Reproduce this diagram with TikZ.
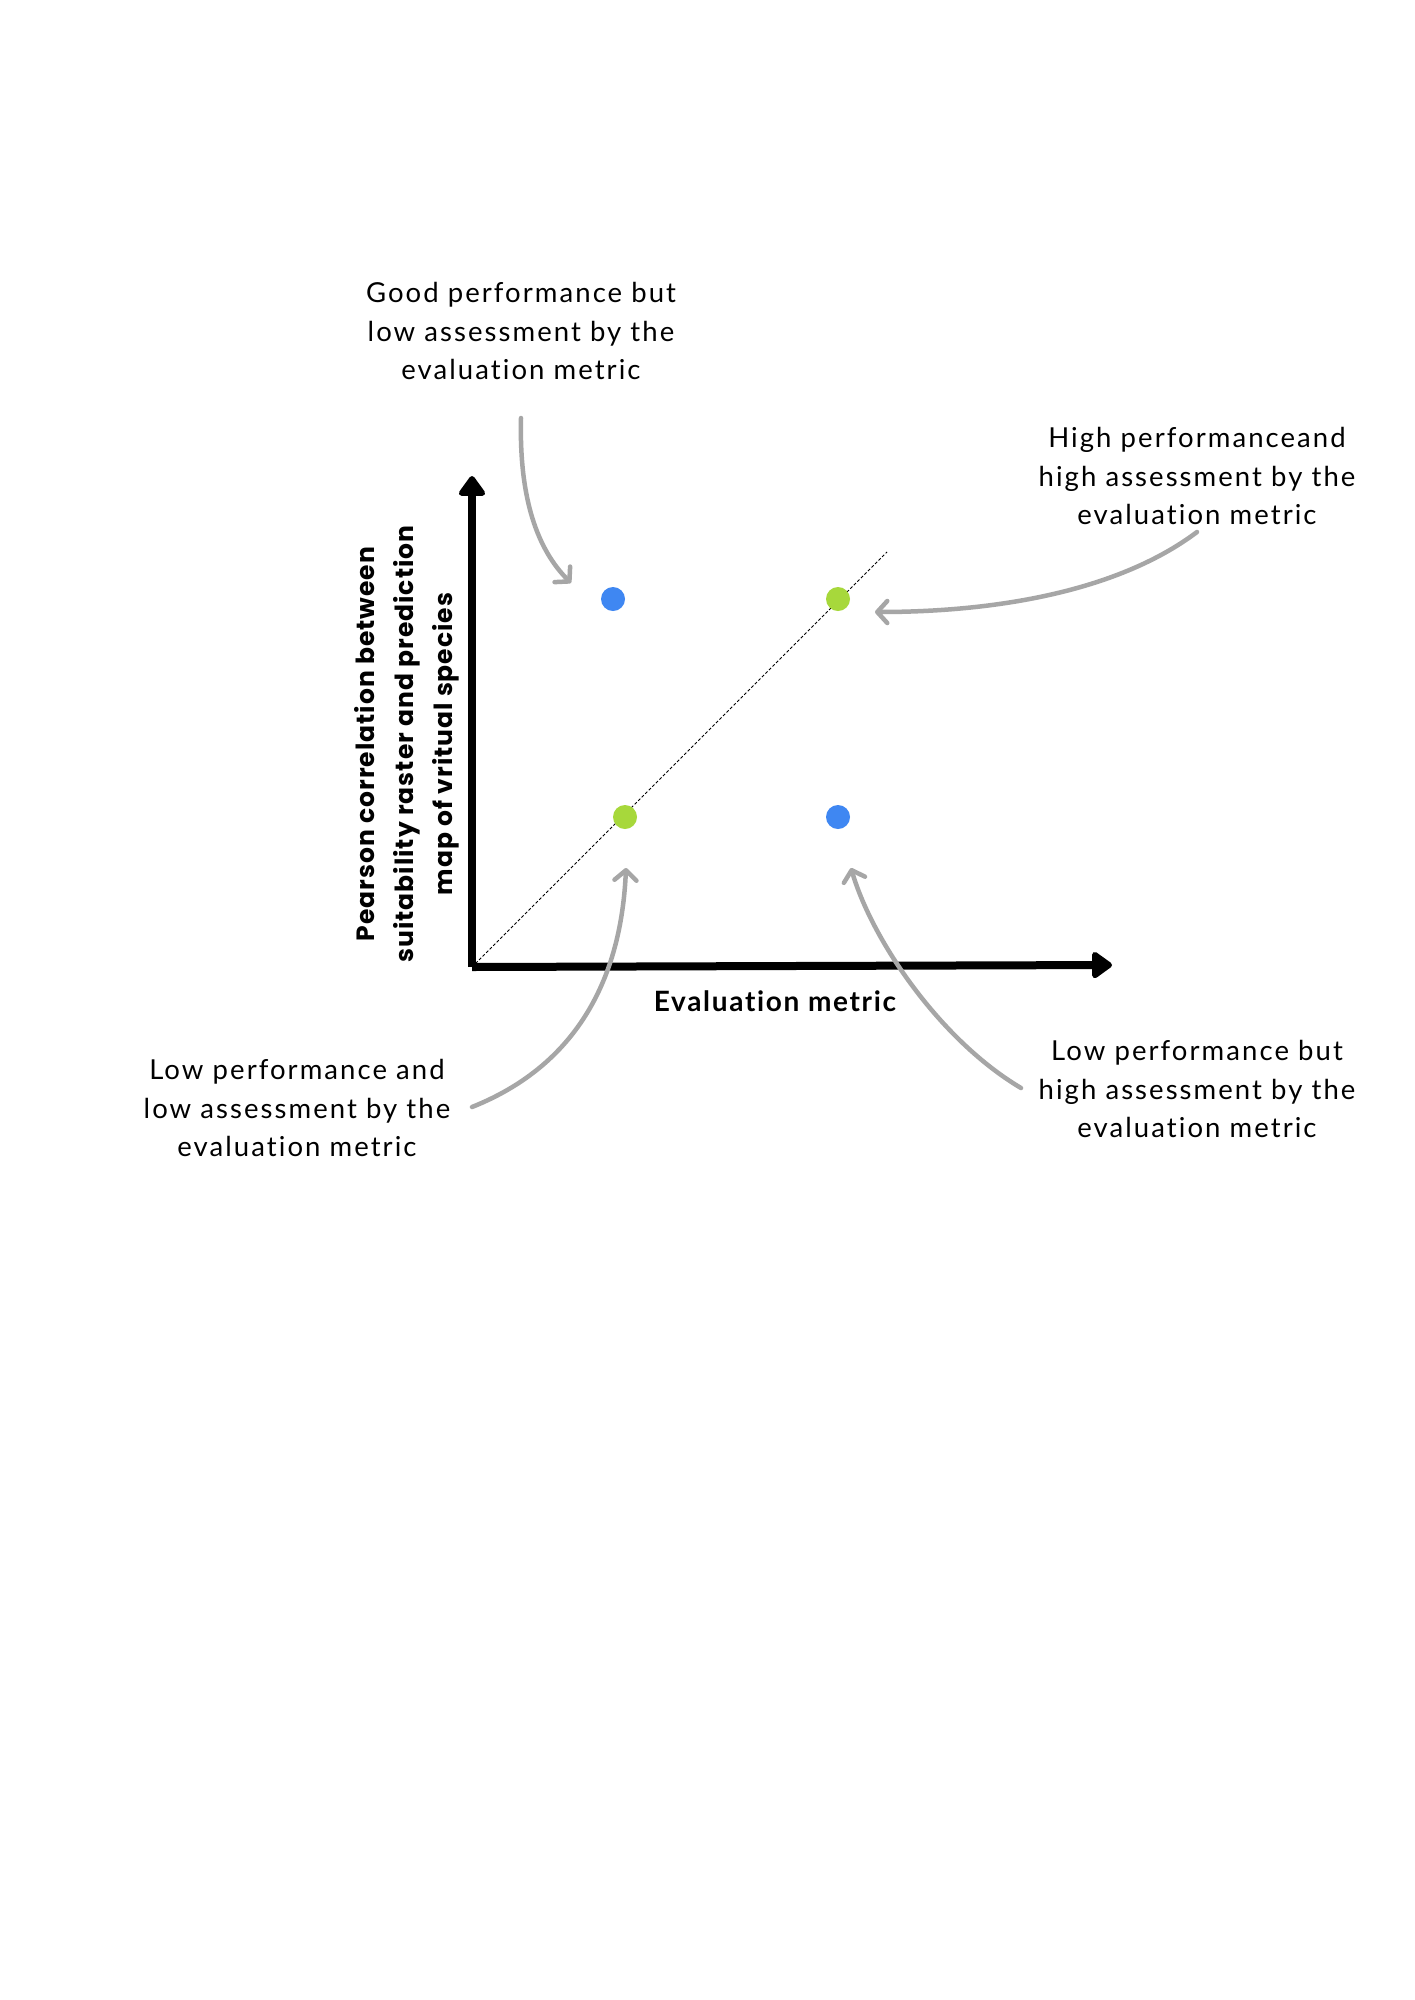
\documentclass[tikz,border=0pt]{standalone}
\usepackage{fontspec}
\setmainfont{Lato}[Ligatures=NoCommon]
\newfontfamily\notefont{Lato}[Ligatures=NoCommon, LetterSpace=7.5]
\newfontfamily\xfont{Lato}[Ligatures=NoCommon, LetterSpace=6]
\newfontfamily\axfont{Poppins}[LetterSpace=4]
\usetikzlibrary{arrows.meta}
\definecolor{dotblue}{HTML}{3F87F2}
\definecolor{dotgreen}{HTML}{A7D83B}
\definecolor{arrgray}{HTML}{A6A6A6}
\tikzset{
  note/.style={align=center, inner sep=0pt, font=\notefont\fontsize{27.5}{38.5}\selectfont},
  pointer/.style={draw=arrgray, line width=4.5pt, line cap=round,
    -{Straight Barb[length=10pt,width=22pt,line cap=round,line join=round]}},
  dot/.style={circle, inner sep=0pt, minimum size=24pt},
  axis/.style={line width=8pt, -{Triangle[length=22pt,width=30pt,round]}},
  diag/.style={line width=1pt, dash pattern=on 3pt off 2pt},
}
\begin{document}
\begin{tikzpicture}[x=1pt,y=-1pt]
\useasboundingbox[fill=white] (0,0) rectangle (1414,2000);
% axes
\coordinate (O) at (472,967);
\coordinate (ytip) at (472,476);
\coordinate (xtip) at (1112,965);
\coordinate (dend) at (887,552);
\draw[diag] (O) -- (dend);
\draw[axis] (O) -- (ytip);
\draw[axis] (O) -- (xtip);
% dots
\node[dot, fill=dotblue]  (gl) at (613,599) {};
\node[dot, fill=dotgreen] (hh) at (838,599) {};
\node[dot, fill=dotgreen] (ll) at (625,817) {};
\node[dot, fill=dotblue]  (lh) at (838,817) {};
% axis labels
\node[font=\xfont\bfseries\fontsize{28}{32}\selectfont] (xl) at (775,1001) {Evaluation metric};
\node[rotate=90, align=center, inner sep=0pt, font=\axfont\bfseries\fontsize{25}{39}\selectfont] (yl) at (407,744)
  {Pearson correlation between\\suitability raster and prediction\\map of vritual species};
% notes
\node[note] (ngood) at (521,331) {Good performance but\\low assessment by the\\evaluation metric};
\node[note] (nhigh) at (1197,476) {High performanceand\\high assessment by the\\evaluation metric};
\node[note] (nll) at (297,1108) {Low performance and\\low assessment by the\\evaluation metric};
\node[note] (nlh) at (1197,1089) {Low performance but\\high assessment by the\\evaluation metric};
% pointer ends
\coordinate (s1) at (521,418); \coordinate (t1) at (571,583);
\coordinate (s2) at (1197,532); \coordinate (t2) at (875,612);
\coordinate (s3) at (472,1107); \coordinate (t3) at (626,868);
\coordinate (s4) at (1021,1088); \coordinate (t4) at (851,868);
\draw[pointer] (s1) .. controls (519,500) and (538,550) .. (t1);
\draw[pointer] (s2) .. controls (1120,590) and (1000,612) .. (t2);
\draw[pointer] (s3) .. controls (590,1060) and (622,960) .. (t3);
\draw[pointer] (s4) .. controls (940,1040) and (872,940) .. (t4);
\end{tikzpicture}
\end{document}
